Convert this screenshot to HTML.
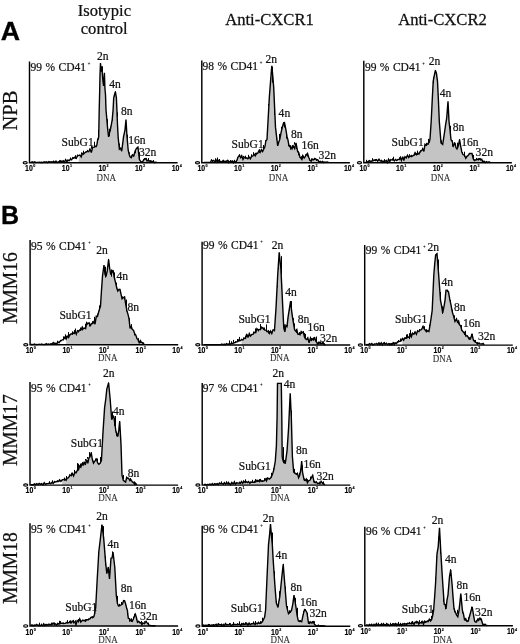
<!DOCTYPE html>
<html><head><meta charset="utf-8"><title>Figure</title>
<style>html,body{margin:0;padding:0;background:#fff}svg{display:block}</style></head>
<body>
<svg style="will-change:transform;filter:grayscale(1)" width="520" height="644" viewBox="0 0 520 644">
<rect width="520" height="644" fill="#fff"/>
<g font-family="Liberation Serif, serif" stroke="#111" stroke-width="0.25">
<text transform="translate(104.4,15.8) scale(1.035,1)" font-size="16" text-anchor="middle" fill="#111">Isotypic</text>
<text transform="translate(104.2,34.1) scale(1.035,1)" font-size="16" text-anchor="middle" fill="#111">control</text>
<text transform="translate(269.5,25.2) scale(1.02,1)" font-size="16.3" text-anchor="middle" fill="#111">Anti-CXCR1</text>
<text transform="translate(442.5,25.2) scale(1.02,1)" font-size="16.3" text-anchor="middle" fill="#111">Anti-CXCR2</text>
<text transform="translate(17.0,110.5) rotate(-90) scale(1.0,1)" font-size="20.5" text-anchor="middle" fill="#111">NPB</text>
<text transform="translate(17.0,288.1) rotate(-90) scale(0.955,1)" font-size="20.5" text-anchor="middle" fill="#111">MMM16</text>
<text transform="translate(17.0,430.2) rotate(-90) scale(0.955,1)" font-size="20.5" text-anchor="middle" fill="#111">MMM17</text>
<text transform="translate(17.0,568.1) rotate(-90) scale(0.955,1)" font-size="20.5" text-anchor="middle" fill="#111">MMM18</text>
</g>
<g font-family="Liberation Sans, sans-serif" font-weight="bold" fill="#000" stroke="#000" stroke-width="0.3">
<text transform="translate(0.8,40) scale(1.07,1)" font-size="25">A</text>
<text transform="translate(1.1,224.2) scale(1.0,1)" font-size="25">B</text>
</g>
<polygon points="78.8,162.8 78.8,155.6 80.0,155.2 81.2,157.0 82.4,153.5 83.6,154.0 84.8,152.7 86.0,152.1 87.3,151.3 88.7,151.7 90.0,149.2 91.3,152.5 92.7,147.4 94.0,147.1 95.4,146.6 96.8,145.4 97.8,139.0 98.7,137.2 99.2,110.2 99.7,90.2 100.0,75.2 100.5,63.0 101.2,71.8 101.8,66.2 102.8,79.8 103.6,85.8 104.4,72.8 104.9,87.8 105.5,94.8 106.0,109.8 107.7,129.2 108.6,136.8 109.5,132.9 110.5,129.2 112.2,119.8 113.1,109.8 113.7,97.8 114.5,94.8 115.4,91.8 116.4,97.8 116.9,109.8 117.5,124.8 118.2,137.8 119.4,149.2 120.6,148.2 121.7,151.2 123.5,137.2 125.0,129.8 126.0,119.5 126.9,135.2 128.2,150.2 129.1,154.1 130.0,156.8 131.3,157.7 132.5,154.8 133.8,155.8 135.2,150.7 136.6,148.2 138.0,147.2 139.4,159.6 141.2,162.2 142.6,161.7 144.0,159.6 144.9,159.0 145.9,158.7 147.1,160.9 148.4,160.1 149.6,161.2 150.8,160.7 152.1,161.8 153.3,161.2 154.5,162.6 155.8,162.3 157.0,162.4 157.0,162.8" fill="#c4c4c4" stroke="none"/>
<polyline points="31.0,162.4 32.2,161.8 33.4,162.6 34.6,161.9 35.8,162.5 36.9,162.4 38.1,162.4 39.3,162.3 40.5,162.5 41.7,162.3 42.9,162.6 44.1,161.8 45.2,162.4 46.4,161.9 47.6,162.6 48.8,161.5 50.0,162.2 51.2,161.8 52.4,162.2 53.6,161.2 54.8,162.5 56.0,161.1 57.2,162.6 58.4,161.7 59.6,162.3 60.8,160.8 62.0,161.8 63.2,160.8 64.4,162.2 65.6,159.7 66.8,161.7 68.0,160.2 69.2,160.7 70.4,159.2 71.6,159.8 72.8,157.7 74.0,158.2 75.2,156.8 76.4,158.2 77.6,155.3 78.8,155.6 80.0,155.2 81.2,157.0 82.4,153.5 83.6,154.0 84.8,152.7 86.0,152.1 87.3,151.3 88.7,151.7 90.0,149.2 91.3,152.5 92.7,147.4 94.0,147.1 95.4,146.6 96.8,145.4 97.8,139.0 98.7,137.2 99.2,110.2 99.7,90.2 100.0,75.2 100.5,63.0 101.2,71.8 101.8,66.2 102.8,79.8 103.6,85.8 104.4,72.8 104.9,87.8 105.5,94.8 106.0,109.8 107.7,129.2 108.6,136.8 109.5,132.9 110.5,129.2 112.2,119.8 113.1,109.8 113.7,97.8 114.5,94.8 115.4,91.8 116.4,97.8 116.9,109.8 117.5,124.8 118.2,137.8 119.4,149.2 120.6,148.2 121.7,151.2 123.5,137.2 125.0,129.8 126.0,119.5 126.9,135.2 128.2,150.2 129.1,154.1 130.0,156.8 131.3,157.7 132.5,154.8 133.8,155.8 135.2,150.7 136.6,148.2 138.0,147.2 139.4,159.6 141.2,162.2 142.6,161.7 144.0,159.6 144.9,159.0 145.9,158.7 147.1,160.9 148.4,160.1 149.6,161.2 150.8,160.7 152.1,161.8 153.3,161.2 154.5,162.6 155.8,162.3 157.0,162.4" fill="none" stroke="#000" stroke-width="1.4" stroke-linejoin="miter" stroke-miterlimit="3"/>
<path d="M59.5,162.0V160.2 M61.5,162.1V161.2 M62.5,162.1V161.1 M63.5,162.1V160.7 M65.5,161.2V159.3 M67.5,160.6V159.7 M70.5,159.6V157.5 M73.5,158.9V157.7 M75.5,158.8V155.2 M77.5,156.8V154.8 M79.5,155.8V154.7 M81.5,154.6V152.4 M83.5,154.6V150.7 M85.5,152.6V151.5 M87.5,151.7V149.9 M89.5,150.0V148.7 M91.5,148.7V146.0 M92.5,148.6V146.5 M94.5,147.2V141.7 M96.5,147.2V144.8 M98.5,139.7V130.0 M102.5,72.0V66.4 M104.5,77.1V74.8 M107.5,127.5V119.1 M109.5,136.2V128.7 M110.5,131.3V126.6 M112.5,120.5V116.2 M114.5,96.4V93.9 M115.5,94.2V91.2 M117.5,116.7V112.4 M119.5,148.2V143.5 M127.5,138.7V134.7 M129.5,153.8V152.4 M131.5,156.6V155.3 M133.5,156.7V155.2 M135.5,153.2V150.7 M137.5,148.5V146.7 M139.5,158.9V152.2 M143.5,160.6V159.0 M144.5,159.6V158.1 M146.5,159.6V158.1 M148.5,161.5V158.1 M150.5,162.4V160.7 M153.5,161.8V160.1" fill="none" stroke="#000" stroke-width="1.0"/>
<path d="M29.50,61.60 V162.75 H177.6" fill="none" stroke="#000" stroke-width="1.45" stroke-linecap="butt" stroke-linejoin="miter"/>
<ellipse cx="25.2" cy="162.7" rx="2.05" ry="1.15" fill="none" stroke="#000" stroke-width="1.2"/>
<g font-family="Liberation Sans, sans-serif" font-weight="bold" fill="#000">
<text transform="translate(25.1,170.50) scale(0.84,1)" font-size="8.3" stroke="#000" stroke-width="0.15">10<tspan font-size="4.4" dy="-3.7" dx="0.4">0</tspan></text>
<text transform="translate(61.8,170.50) scale(0.84,1)" font-size="8.3" stroke="#000" stroke-width="0.15">10<tspan font-size="4.4" dy="-3.7" dx="0.4">1</tspan></text>
<text transform="translate(98.4,170.50) scale(0.84,1)" font-size="8.3" stroke="#000" stroke-width="0.15">10<tspan font-size="4.4" dy="-3.7" dx="0.4">2</tspan></text>
<text transform="translate(135.0,170.50) scale(0.84,1)" font-size="8.3" stroke="#000" stroke-width="0.15">10<tspan font-size="4.4" dy="-3.7" dx="0.4">3</tspan></text>
<text transform="translate(171.7,170.50) scale(0.84,1)" font-size="8.3" stroke="#000" stroke-width="0.15">10<tspan font-size="4.4" dy="-3.7" dx="0.4">4</tspan></text>
</g>
<g font-family="Liberation Serif, serif" stroke="#111" stroke-width="0.22">
<text transform="translate(106.3,181.3) scale(0.9,1)" font-size="10" text-anchor="middle" fill="#303030" stroke="#303030" stroke-width="0.1">DNA</text>
<text transform="translate(30.5,70.9) scale(0.945,1)" font-size="12.2" text-anchor="start" fill="#111" word-spacing="0.6">99 % CD41<tspan font-size="4.8" dy="-6.0" dx="1.8">+</tspan></text>
<text transform="translate(97.0,59.5) scale(0.935,1)" font-size="12.4" text-anchor="start" fill="#111">2n</text>
<text transform="translate(109.2,87.8) scale(0.935,1)" font-size="12.4" text-anchor="start" fill="#111">4n</text>
<text transform="translate(121.0,115.0) scale(0.935,1)" font-size="12.4" text-anchor="start" fill="#111">8n</text>
<text transform="translate(128.2,144.2) scale(0.935,1)" font-size="12.4" text-anchor="start" fill="#111">16n</text>
<text transform="translate(139.0,156.2) scale(0.935,1)" font-size="12.4" text-anchor="start" fill="#111">32n</text>
<text transform="translate(61.5,145.6) scale(0.935,1)" font-size="12.4" text-anchor="start" fill="#111">SubG1</text>
</g>
<polygon points="237.8,162.8 237.8,157.6 239.5,155.2 240.7,157.6 241.9,156.1 243.0,159.4 244.2,157.2 245.4,158.1 246.6,157.8 247.8,158.8 249.1,157.2 250.3,158.8 251.5,156.4 252.7,156.2 254.0,154.2 255.2,155.9 256.5,153.5 257.7,153.4 258.9,150.8 260.1,152.4 261.4,149.6 262.6,151.5 263.8,148.9 264.9,146.8 265.9,140.7 267.0,139.4 268.2,118.0 269.4,96.4 270.6,80.9 271.8,65.8 272.8,76.3 273.7,87.4 274.6,107.4 275.5,127.4 276.6,136.6 277.7,145.8 278.8,142.0 279.8,139.4 281.1,132.4 282.3,127.4 283.4,123.5 284.5,122.7 285.8,129.1 287.0,136.4 288.0,140.2 289.0,145.8 290.5,145.9 292.0,148.9 293.3,146.0 294.7,148.5 296.0,142.8 297.7,151.9 298.7,152.5 299.8,156.5 300.8,158.1 301.9,159.6 303.1,156.1 304.2,158.0 305.4,156.4 306.4,154.7 307.5,153.4 308.8,157.5 310.0,160.4 311.2,161.2 312.4,159.2 313.6,159.8 314.8,158.4 316.0,159.4 317.5,159.6 319.0,161.8 320.2,161.4 321.4,162.3 322.6,161.4 323.8,162.6 324.9,161.9 326.1,162.3 327.3,162.0 328.5,162.4 328.5,162.8" fill="#c4c4c4" stroke="none"/>
<polyline points="203.8,162.4 204.9,162.4 206.0,162.4 207.2,162.4 208.3,162.4 209.4,162.4 210.5,162.4 211.5,160.0 212.5,161.0 213.7,160.3 214.9,161.9 216.1,160.0 217.2,162.1 218.4,160.4 219.6,162.1 220.8,161.3 222.0,162.0 223.1,160.5 224.2,161.6 225.4,161.3 226.6,161.4 227.7,160.4 228.8,162.6 230.0,161.5 231.1,161.4 232.3,161.0 233.4,162.6 234.5,160.8 235.7,162.4 236.8,161.0 237.8,157.6 239.5,155.2 240.7,157.6 241.9,156.1 243.0,159.4 244.2,157.2 245.4,158.1 246.6,157.8 247.8,158.8 249.1,157.2 250.3,158.8 251.5,156.4 252.7,156.2 254.0,154.2 255.2,155.9 256.5,153.5 257.7,153.4 258.9,150.8 260.1,152.4 261.4,149.6 262.6,151.5 263.8,148.9 264.9,146.8 265.9,140.7 267.0,139.4 268.2,118.0 269.4,96.4 270.6,80.9 271.8,65.8 272.8,76.3 273.7,87.4 274.6,107.4 275.5,127.4 276.6,136.6 277.7,145.8 278.8,142.0 279.8,139.4 281.1,132.4 282.3,127.4 283.4,123.5 284.5,122.7 285.8,129.1 287.0,136.4 288.0,140.2 289.0,145.8 290.5,145.9 292.0,148.9 293.3,146.0 294.7,148.5 296.0,142.8 297.7,151.9 298.7,152.5 299.8,156.5 300.8,158.1 301.9,159.6 303.1,156.1 304.2,158.0 305.4,156.4 306.4,154.7 307.5,153.4 308.8,157.5 310.0,160.4 311.2,161.2 312.4,159.2 313.6,159.8 314.8,158.4 316.0,159.4 317.5,159.6 319.0,161.8 320.2,161.4 321.4,162.3 322.6,161.4 323.8,162.6 324.9,161.9 326.1,162.3 327.3,162.0 328.5,162.4" fill="none" stroke="#000" stroke-width="1.4" stroke-linejoin="miter" stroke-miterlimit="3"/>
<path d="M212.5,161.9V160.4 M215.5,161.9V158.3 M217.5,161.7V157.5 M219.5,161.7V159.0 M223.5,162.0V159.9 M226.5,161.6V160.5 M228.5,161.9V160.4 M230.5,162.2V160.1 M232.5,162.1V160.5 M234.5,161.4V160.4 M236.5,160.8V159.9 M239.5,155.5V154.7 M241.5,157.7V154.7 M243.5,157.5V155.9 M245.5,158.3V155.7 M248.5,157.3V154.8 M251.5,157.2V154.3 M253.5,155.6V152.2 M254.5,155.3V153.9 M255.5,154.9V152.8 M256.5,154.5V152.8 M259.5,152.8V149.2 M261.5,151.3V149.3 M263.5,149.4V145.0 M265.5,143.1V140.3 M268.5,105.6V104.0 M272.5,82.6V66.8 M274.5,114.8V109.9 M276.5,139.7V134.1 M279.5,139.6V133.9 M281.5,129.4V126.8 M283.5,125.4V122.1 M284.5,127.5V122.1 M286.5,138.6V131.5 M288.5,146.0V143.3 M289.5,147.4V145.2 M290.5,149.7V145.5 M292.5,147.6V145.1 M294.5,144.7V142.2 M296.5,149.0V146.0 M298.5,155.3V151.3 M299.5,157.5V154.1 M301.5,159.3V156.2 M302.5,158.0V154.5 M303.5,157.6V155.8 M305.5,155.9V154.3 M307.5,156.5V153.4 M309.5,160.5V158.2 M311.5,160.8V158.4 M314.5,159.9V159.0 M316.5,161.0V158.8 M318.5,161.9V159.8" fill="none" stroke="#000" stroke-width="1.0"/>
<path d="M201.80,60.40 V162.75 H349.9" fill="none" stroke="#000" stroke-width="1.45" stroke-linecap="butt" stroke-linejoin="miter"/>
<ellipse cx="197.5" cy="162.7" rx="2.05" ry="1.15" fill="none" stroke="#000" stroke-width="1.2"/>
<g font-family="Liberation Sans, sans-serif" font-weight="bold" fill="#000">
<text transform="translate(197.4,170.50) scale(0.84,1)" font-size="8.3" stroke="#000" stroke-width="0.15">10<tspan font-size="4.4" dy="-3.7" dx="0.4">0</tspan></text>
<text transform="translate(234.1,170.50) scale(0.84,1)" font-size="8.3" stroke="#000" stroke-width="0.15">10<tspan font-size="4.4" dy="-3.7" dx="0.4">1</tspan></text>
<text transform="translate(270.7,170.50) scale(0.84,1)" font-size="8.3" stroke="#000" stroke-width="0.15">10<tspan font-size="4.4" dy="-3.7" dx="0.4">2</tspan></text>
<text transform="translate(307.4,170.50) scale(0.84,1)" font-size="8.3" stroke="#000" stroke-width="0.15">10<tspan font-size="4.4" dy="-3.7" dx="0.4">3</tspan></text>
<text transform="translate(344.0,170.50) scale(0.84,1)" font-size="8.3" stroke="#000" stroke-width="0.15">10<tspan font-size="4.4" dy="-3.7" dx="0.4">4</tspan></text>
</g>
<g font-family="Liberation Serif, serif" stroke="#111" stroke-width="0.22">
<text transform="translate(278.6,181.3) scale(0.9,1)" font-size="10" text-anchor="middle" fill="#303030" stroke="#303030" stroke-width="0.1">DNA</text>
<text transform="translate(202.5,70.2) scale(0.945,1)" font-size="12.2" text-anchor="start" fill="#111" word-spacing="0.6">98 % CD41<tspan font-size="4.8" dy="-6.0" dx="1.8">+</tspan></text>
<text transform="translate(265.4,62.5) scale(0.935,1)" font-size="12.4" text-anchor="start" fill="#111">2n</text>
<text transform="translate(278.6,117.0) scale(0.935,1)" font-size="12.4" text-anchor="start" fill="#111">4n</text>
<text transform="translate(291.0,138.0) scale(0.935,1)" font-size="12.4" text-anchor="start" fill="#111">8n</text>
<text transform="translate(301.4,148.8) scale(0.935,1)" font-size="12.4" text-anchor="start" fill="#111">16n</text>
<text transform="translate(318.6,158.6) scale(0.935,1)" font-size="12.4" text-anchor="start" fill="#111">32n</text>
<text transform="translate(231.5,147.8) scale(0.935,1)" font-size="12.4" text-anchor="start" fill="#111">SubG1</text>
</g>
<polygon points="399.0,162.8 399.0,159.5 400.2,157.5 401.4,160.3 402.6,156.8 403.8,160.5 405.0,156.7 406.2,157.7 407.5,155.2 408.7,157.4 410.0,155.8 411.3,156.6 412.5,155.8 413.8,155.4 415.1,152.6 416.4,154.7 417.6,152.9 418.9,154.1 420.2,151.5 421.5,150.8 422.7,148.9 423.9,151.4 425.0,144.4 426.2,145.4 427.7,143.7 429.2,142.3 430.0,139.0 431.2,121.3 432.2,100.7 433.2,81.3 434.3,75.3 435.4,70.5 436.4,73.1 437.5,81.3 438.4,99.8 439.3,121.3 441.0,142.8 442.7,144.3 443.8,137.2 444.8,130.5 445.8,123.3 446.7,118.2 448.0,101.3 449.0,121.3 450.0,129.9 451.0,139.7 452.2,141.4 453.5,145.9 455.0,142.8 456.0,147.8 457.0,149.0 458.3,146.0 459.6,139.7 460.7,146.5 461.8,152.0 463.1,154.7 464.5,155.2 465.8,158.2 467.0,156.4 468.3,155.2 469.5,153.5 470.8,153.5 472.0,153.5 473.2,158.7 474.4,160.5 475.7,159.9 477.0,159.1 478.3,159.9 479.6,158.8 480.6,159.9 481.7,159.3 482.7,161.9 484.0,161.1 485.3,162.6 486.5,161.7 487.8,162.5 489.1,161.8 490.4,162.5 490.4,162.8" fill="#c4c4c4" stroke="none"/>
<polyline points="365.8,161.9 367.0,161.5 368.2,162.4 369.4,160.7 370.6,161.4 371.7,161.0 372.9,161.0 374.1,159.8 375.3,160.6 376.5,159.7 377.7,161.2 379.0,159.2 380.2,161.0 381.5,160.8 382.7,161.3 383.9,161.3 385.0,161.2 386.2,160.7 387.4,162.6 388.5,159.3 389.7,161.7 390.8,159.7 392.0,160.1 393.2,159.5 394.3,160.9 395.5,159.4 396.7,160.5 397.8,159.6 399.0,159.5 400.2,157.5 401.4,160.3 402.6,156.8 403.8,160.5 405.0,156.7 406.2,157.7 407.5,155.2 408.7,157.4 410.0,155.8 411.3,156.6 412.5,155.8 413.8,155.4 415.1,152.6 416.4,154.7 417.6,152.9 418.9,154.1 420.2,151.5 421.5,150.8 422.7,148.9 423.9,151.4 425.0,144.4 426.2,145.4 427.7,143.7 429.2,142.3 430.0,139.0 431.2,121.3 432.2,100.7 433.2,81.3 434.3,75.3 435.4,70.5 436.4,73.1 437.5,81.3 438.4,99.8 439.3,121.3 441.0,142.8 442.7,144.3 443.8,137.2 444.8,130.5 445.8,123.3 446.7,118.2 448.0,101.3 449.0,121.3 450.0,129.9 451.0,139.7 452.2,141.4 453.5,145.9 455.0,142.8 456.0,147.8 457.0,149.0 458.3,146.0 459.6,139.7 460.7,146.5 461.8,152.0 463.1,154.7 464.5,155.2 465.8,158.2 467.0,156.4 468.3,155.2 469.5,153.5 470.8,153.5 472.0,153.5 473.2,158.7 474.4,160.5 475.7,159.9 477.0,159.1 478.3,159.9 479.6,158.8 480.6,159.9 481.7,159.3 482.7,161.9 484.0,161.1 485.3,162.6 486.5,161.7 487.8,162.5 489.1,161.8 490.4,162.5" fill="none" stroke="#000" stroke-width="1.4" stroke-linejoin="miter" stroke-miterlimit="3"/>
<path d="M366.5,162.2V159.8 M368.5,162.4V160.5 M372.5,160.7V158.2 M375.5,160.2V159.1 M378.5,160.5V159.3 M381.5,161.6V159.7 M384.5,161.2V159.1 M386.5,161.1V159.8 M389.5,160.7V159.5 M392.5,160.3V158.3 M393.5,160.3V156.7 M395.5,160.1V159.2 M397.5,159.8V158.9 M399.5,159.7V157.5 M400.5,159.4V156.4 M403.5,158.7V157.5 M404.5,158.3V157.1 M406.5,158.5V156.9 M408.5,157.4V156.0 M409.5,156.7V154.2 M411.5,156.4V154.8 M414.5,155.5V152.9 M415.5,155.0V152.8 M417.5,155.0V150.6 M420.5,152.4V150.2 M422.5,150.0V147.7 M424.5,147.4V145.4 M426.5,145.7V142.8 M428.5,144.7V138.8 M431.5,114.1V113.2 M433.5,83.3V77.2 M435.5,71.3V69.9 M438.5,106.7V102.1 M441.5,143.5V140.3 M443.5,138.8V137.9 M448.5,116.2V106.0 M450.5,136.2V125.9 M452.5,146.7V140.4 M454.5,143.7V142.2 M457.5,147.3V142.7 M459.5,140.1V139.1 M461.5,151.0V148.8 M462.5,154.3V152.0 M464.5,156.8V151.7 M466.5,157.4V155.9 M473.5,159.2V154.9 M474.5,160.8V159.8 M476.5,160.4V157.9 M478.5,159.9V158.2 M480.5,160.1V158.2 M482.5,162.4V160.0" fill="none" stroke="#000" stroke-width="1.0"/>
<path d="M363.80,60.65 V162.80 H511.9" fill="none" stroke="#000" stroke-width="1.45" stroke-linecap="butt" stroke-linejoin="miter"/>
<ellipse cx="359.5" cy="162.7" rx="2.05" ry="1.15" fill="none" stroke="#000" stroke-width="1.2"/>
<g font-family="Liberation Sans, sans-serif" font-weight="bold" fill="#000">
<text transform="translate(359.4,170.55) scale(0.84,1)" font-size="8.3" stroke="#000" stroke-width="0.15">10<tspan font-size="4.4" dy="-3.7" dx="0.4">0</tspan></text>
<text transform="translate(396.1,170.55) scale(0.84,1)" font-size="8.3" stroke="#000" stroke-width="0.15">10<tspan font-size="4.4" dy="-3.7" dx="0.4">1</tspan></text>
<text transform="translate(432.7,170.55) scale(0.84,1)" font-size="8.3" stroke="#000" stroke-width="0.15">10<tspan font-size="4.4" dy="-3.7" dx="0.4">2</tspan></text>
<text transform="translate(469.4,170.55) scale(0.84,1)" font-size="8.3" stroke="#000" stroke-width="0.15">10<tspan font-size="4.4" dy="-3.7" dx="0.4">3</tspan></text>
<text transform="translate(506.0,170.55) scale(0.84,1)" font-size="8.3" stroke="#000" stroke-width="0.15">10<tspan font-size="4.4" dy="-3.7" dx="0.4">4</tspan></text>
</g>
<g font-family="Liberation Serif, serif" stroke="#111" stroke-width="0.22">
<text transform="translate(440.6,181.4) scale(0.9,1)" font-size="10" text-anchor="middle" fill="#303030" stroke="#303030" stroke-width="0.1">DNA</text>
<text transform="translate(364.9,70.8) scale(0.945,1)" font-size="12.2" text-anchor="start" fill="#111" word-spacing="0.6">99 % CD41<tspan font-size="4.8" dy="-6.0" dx="1.8">+</tspan></text>
<text transform="translate(428.8,65.0) scale(0.935,1)" font-size="12.4" text-anchor="start" fill="#111">2n</text>
<text transform="translate(439.7,97.3) scale(0.935,1)" font-size="12.4" text-anchor="start" fill="#111">4n</text>
<text transform="translate(452.8,131.2) scale(0.935,1)" font-size="12.4" text-anchor="start" fill="#111">8n</text>
<text transform="translate(461.2,146.0) scale(0.935,1)" font-size="12.4" text-anchor="start" fill="#111">16n</text>
<text transform="translate(475.6,156.3) scale(0.935,1)" font-size="12.4" text-anchor="start" fill="#111">32n</text>
<text transform="translate(391.5,145.5) scale(0.935,1)" font-size="12.4" text-anchor="start" fill="#111">SubG1</text>
</g>
<polygon points="66.1,344.8 66.1,339.1 67.3,336.3 68.6,337.6 69.9,334.5 71.2,334.2 72.5,333.0 73.7,333.4 75.0,331.0 76.3,334.2 77.5,330.6 78.8,331.2 80.0,329.8 81.1,329.8 82.3,327.0 83.4,328.8 84.6,328.0 85.6,328.6 86.7,322.8 87.7,323.8 89.1,322.8 90.5,325.5 91.6,323.5 92.7,323.6 93.8,321.8 95.0,324.2 96.3,316.2 97.5,316.5 99.0,310.8 100.5,306.0 101.5,290.2 102.5,276.0 104.0,265.0 105.0,274.2 106.0,276.5 107.3,270.4 108.6,259.5 109.7,268.5 110.8,274.6 111.9,272.5 113.0,270.0 114.2,277.0 115.4,281.8 116.6,287.3 117.8,291.0 118.9,289.5 120.0,289.5 121.0,294.2 122.0,298.7 123.3,297.6 124.6,297.0 125.8,304.8 127.0,311.0 128.0,314.4 129.0,318.7 130.1,328.5 131.2,326.3 132.3,329.5 133.5,330.2 134.7,333.7 135.8,335.0 137.0,338.7 138.1,339.9 139.2,342.7 140.4,340.6 141.5,342.4 142.5,342.8 143.6,343.8 144.6,344.5 144.6,344.8" fill="#c4c4c4" stroke="none"/>
<polyline points="30.8,344.5 32.0,344.4 33.2,344.6 34.4,344.1 35.6,344.6 36.8,344.4 38.0,344.6 39.2,344.2 40.4,344.6 41.6,344.1 42.8,344.6 44.0,344.4 45.1,344.6 46.3,343.7 47.4,344.5 48.6,344.1 49.7,344.5 50.9,343.8 52.0,344.0 53.3,342.5 54.5,343.9 55.8,343.2 56.8,343.9 57.9,341.9 59.0,342.8 60.0,341.3 61.2,340.7 62.3,339.8 63.5,339.4 64.8,337.3 66.1,339.1 67.3,336.3 68.6,337.6 69.9,334.5 71.2,334.2 72.5,333.0 73.7,333.4 75.0,331.0 76.3,334.2 77.5,330.6 78.8,331.2 80.0,329.8 81.1,329.8 82.3,327.0 83.4,328.8 84.6,328.0 85.6,328.6 86.7,322.8 87.7,323.8 89.1,322.8 90.5,325.5 91.6,323.5 92.7,323.6 93.8,321.8 95.0,324.2 96.3,316.2 97.5,316.5 99.0,310.8 100.5,306.0 101.5,290.2 102.5,276.0 104.0,265.0 105.0,274.2 106.0,276.5 107.3,270.4 108.6,259.5 109.7,268.5 110.8,274.6 111.9,272.5 113.0,270.0 114.2,277.0 115.4,281.8 116.6,287.3 117.8,291.0 118.9,289.5 120.0,289.5 121.0,294.2 122.0,298.7 123.3,297.6 124.6,297.0 125.8,304.8 127.0,311.0 128.0,314.4 129.0,318.7 130.1,328.5 131.2,326.3 132.3,329.5 133.5,330.2 134.7,333.7 135.8,335.0 137.0,338.7 138.1,339.9 139.2,342.7 140.4,340.6 141.5,342.4 142.5,342.8 143.6,343.8 144.6,344.5" fill="none" stroke="#000" stroke-width="1.4" stroke-linejoin="miter" stroke-miterlimit="3"/>
<path d="M54.5,344.0V342.6 M57.5,342.9V340.8 M60.5,341.0V339.9 M63.5,340.4V336.4 M65.5,338.1V334.3 M66.5,338.2V335.8 M68.5,336.2V332.1 M70.5,335.3V333.6 M72.5,334.9V331.3 M74.5,334.2V330.2 M75.5,333.0V328.5 M78.5,332.6V330.6 M80.5,330.9V327.5 M82.5,330.5V327.4 M85.5,327.6V323.8 M87.5,324.4V323.2 M89.5,326.5V323.2 M92.5,324.0V321.2 M94.5,322.0V316.8 M97.5,316.5V313.7 M99.5,310.6V305.4 M101.5,288.9V287.9 M105.5,277.6V266.7 M108.5,260.1V258.9 M111.5,276.7V269.4 M114.5,278.9V272.4 M116.5,288.5V282.6 M119.5,290.1V288.9 M122.5,299.2V296.4 M124.5,299.7V296.4 M126.5,311.3V299.6 M129.5,321.0V318.1 M131.5,328.9V324.2 M134.5,335.5V332.2 M136.5,338.3V336.9 M138.5,341.1V338.1 M140.5,343.1V340.3 M142.5,343.4V341.9 M143.5,344.1V342.4" fill="none" stroke="#000" stroke-width="1.0"/>
<path d="M30.10,240.10 V344.80 H178.2" fill="none" stroke="#000" stroke-width="1.45" stroke-linecap="butt" stroke-linejoin="miter"/>
<ellipse cx="25.8" cy="344.7" rx="2.05" ry="1.15" fill="none" stroke="#000" stroke-width="1.2"/>
<g font-family="Liberation Sans, sans-serif" font-weight="bold" fill="#000">
<text transform="translate(25.7,352.55) scale(0.84,1)" font-size="8.3" stroke="#000" stroke-width="0.15">10<tspan font-size="4.4" dy="-3.7" dx="0.4">0</tspan></text>
<text transform="translate(62.4,352.55) scale(0.84,1)" font-size="8.3" stroke="#000" stroke-width="0.15">10<tspan font-size="4.4" dy="-3.7" dx="0.4">1</tspan></text>
<text transform="translate(99.0,352.55) scale(0.84,1)" font-size="8.3" stroke="#000" stroke-width="0.15">10<tspan font-size="4.4" dy="-3.7" dx="0.4">2</tspan></text>
<text transform="translate(135.6,352.55) scale(0.84,1)" font-size="8.3" stroke="#000" stroke-width="0.15">10<tspan font-size="4.4" dy="-3.7" dx="0.4">3</tspan></text>
<text transform="translate(172.3,352.55) scale(0.84,1)" font-size="8.3" stroke="#000" stroke-width="0.15">10<tspan font-size="4.4" dy="-3.7" dx="0.4">4</tspan></text>
</g>
<g font-family="Liberation Serif, serif" stroke="#111" stroke-width="0.22">
<text transform="translate(107.8,361.2) scale(0.9,1)" font-size="10" text-anchor="middle" fill="#303030" stroke="#303030" stroke-width="0.1">DNA</text>
<text transform="translate(31.0,249.6) scale(0.945,1)" font-size="12.2" text-anchor="start" fill="#111" word-spacing="0.6">95 % CD41<tspan font-size="4.8" dy="-6.0" dx="1.8">+</tspan></text>
<text transform="translate(96.3,253.5) scale(0.935,1)" font-size="12.4" text-anchor="start" fill="#111">2n</text>
<text transform="translate(116.5,279.5) scale(0.935,1)" font-size="12.4" text-anchor="start" fill="#111">4n</text>
<text transform="translate(127.4,310.6) scale(0.935,1)" font-size="12.4" text-anchor="start" fill="#111">8n</text>
<text transform="translate(59.4,319.2) scale(0.935,1)" font-size="12.4" text-anchor="start" fill="#111">SubG1</text>
</g>
<polygon points="241.6,344.9 241.6,339.6 242.9,339.9 244.2,338.1 245.5,338.4 246.7,334.0 248.0,337.5 249.3,333.6 250.5,336.0 251.8,334.6 253.1,334.2 254.4,332.4 255.7,332.7 256.9,328.7 258.2,330.2 259.5,329.5 260.5,329.6 261.6,327.1 262.6,328.1 263.8,329.5 264.9,329.9 266.1,330.3 267.2,331.8 268.4,330.8 269.5,333.4 270.6,331.1 271.8,333.4 273.1,329.8 274.5,330.1 276.0,308.1 277.7,275.1 279.2,252.4 280.9,269.1 282.0,291.1 282.8,308.1 283.8,328.1 284.9,331.8 285.9,325.5 287.0,326.5 288.0,317.7 289.0,311.1 290.6,301.1 291.6,310.7 292.5,317.1 293.6,323.9 294.6,329.6 295.7,331.1 296.8,329.6 297.9,334.3 299.0,334.1 300.1,334.8 301.2,331.6 302.3,332.6 303.3,331.9 304.4,336.7 305.4,338.8 306.6,339.5 307.8,337.8 309.1,342.8 310.3,338.6 311.5,340.3 312.5,338.9 313.6,340.0 314.6,337.1 315.7,340.9 316.8,342.5 317.9,344.2 319.0,342.3 320.1,343.5 321.2,343.2 322.3,343.4 323.3,342.8 324.4,344.8 325.4,344.6 325.4,344.9" fill="#c4c4c4" stroke="none"/>
<polyline points="203.8,344.6 205.0,344.6 206.2,344.6 207.4,344.6 208.7,344.6 209.9,344.6 211.1,344.6 212.3,344.6 213.5,344.6 214.7,344.6 215.9,344.6 217.2,344.6 218.4,344.6 219.6,344.6 220.8,344.6 221.9,344.0 223.1,344.8 224.2,344.1 225.4,344.8 226.5,343.6 227.7,344.3 228.8,344.0 230.1,344.2 231.4,343.2 232.7,343.4 233.9,342.8 235.2,342.5 236.5,341.8 237.8,341.5 239.1,339.8 240.3,340.7 241.6,339.6 242.9,339.9 244.2,338.1 245.5,338.4 246.7,334.0 248.0,337.5 249.3,333.6 250.5,336.0 251.8,334.6 253.1,334.2 254.4,332.4 255.7,332.7 256.9,328.7 258.2,330.2 259.5,329.5 260.5,329.6 261.6,327.1 262.6,328.1 263.8,329.5 264.9,329.9 266.1,330.3 267.2,331.8 268.4,330.8 269.5,333.4 270.6,331.1 271.8,333.4 273.1,329.8 274.5,330.1 276.0,308.1 277.7,275.1 279.2,252.4 280.9,269.1 282.0,291.1 282.8,308.1 283.8,328.1 284.9,331.8 285.9,325.5 287.0,326.5 288.0,317.7 289.0,311.1 290.6,301.1 291.6,310.7 292.5,317.1 293.6,323.9 294.6,329.6 295.7,331.1 296.8,329.6 297.9,334.3 299.0,334.1 300.1,334.8 301.2,331.6 302.3,332.6 303.3,331.9 304.4,336.7 305.4,338.8 306.6,339.5 307.8,337.8 309.1,342.8 310.3,338.6 311.5,340.3 312.5,338.9 313.6,340.0 314.6,337.1 315.7,340.9 316.8,342.5 317.9,344.2 319.0,342.3 320.1,343.5 321.2,343.2 322.3,343.4 323.3,342.8 324.4,344.8 325.4,344.6" fill="none" stroke="#000" stroke-width="1.4" stroke-linejoin="miter" stroke-miterlimit="3"/>
<path d="M229.5,344.2V340.4 M231.5,343.4V341.3 M233.5,342.9V339.9 M235.5,342.7V341.2 M237.5,341.6V339.0 M238.5,341.4V339.5 M239.5,341.5V336.9 M241.5,339.8V338.8 M243.5,339.1V337.5 M245.5,337.9V335.9 M247.5,336.9V335.5 M249.5,336.2V333.2 M251.5,335.1V334.0 M253.5,334.3V331.5 M255.5,333.0V328.4 M258.5,331.5V328.9 M260.5,330.1V324.0 M263.5,329.4V327.5 M264.5,330.4V327.5 M266.5,331.4V324.4 M268.5,333.6V331.2 M269.5,333.1V331.2 M271.5,333.9V331.9 M274.5,331.5V327.6 M277.5,287.2V285.7 M278.5,269.4V267.7 M279.5,254.5V252.9 M281.5,274.2V256.2 M284.5,328.6V324.4 M285.5,327.8V326.3 M287.5,325.9V325.1 M289.5,310.9V309.9 M291.5,307.6V301.1 M293.5,320.7V318.1 M294.5,327.5V323.4 M296.5,333.1V329.0 M299.5,335.1V332.1 M301.5,334.0V332.0 M304.5,336.6V333.0 M305.5,338.8V333.9 M307.5,339.9V338.2 M310.5,340.4V336.5 M311.5,340.7V337.9 M313.5,339.2V337.5 M316.5,341.1V336.5 M318.5,342.8V341.9 M319.5,343.0V341.9 M320.5,344.0V341.6 M322.5,343.8V341.8 M324.5,344.3V343.4" fill="none" stroke="#000" stroke-width="1.0"/>
<path d="M202.10,241.80 V344.95 H350.2" fill="none" stroke="#000" stroke-width="1.45" stroke-linecap="butt" stroke-linejoin="miter"/>
<ellipse cx="197.8" cy="344.8" rx="2.05" ry="1.15" fill="none" stroke="#000" stroke-width="1.2"/>
<g font-family="Liberation Sans, sans-serif" font-weight="bold" fill="#000">
<text transform="translate(197.7,352.70) scale(0.84,1)" font-size="8.3" stroke="#000" stroke-width="0.15">10<tspan font-size="4.4" dy="-3.7" dx="0.4">0</tspan></text>
<text transform="translate(234.3,352.70) scale(0.84,1)" font-size="8.3" stroke="#000" stroke-width="0.15">10<tspan font-size="4.4" dy="-3.7" dx="0.4">1</tspan></text>
<text transform="translate(271.0,352.70) scale(0.84,1)" font-size="8.3" stroke="#000" stroke-width="0.15">10<tspan font-size="4.4" dy="-3.7" dx="0.4">2</tspan></text>
<text transform="translate(307.6,352.70) scale(0.84,1)" font-size="8.3" stroke="#000" stroke-width="0.15">10<tspan font-size="4.4" dy="-3.7" dx="0.4">3</tspan></text>
<text transform="translate(344.3,352.70) scale(0.84,1)" font-size="8.3" stroke="#000" stroke-width="0.15">10<tspan font-size="4.4" dy="-3.7" dx="0.4">4</tspan></text>
</g>
<g font-family="Liberation Serif, serif" stroke="#111" stroke-width="0.22">
<text transform="translate(279.8,361.3) scale(0.9,1)" font-size="10" text-anchor="middle" fill="#303030" stroke="#303030" stroke-width="0.1">DNA</text>
<text transform="translate(203.1,249.3) scale(0.945,1)" font-size="12.2" text-anchor="start" fill="#111" word-spacing="0.6">99 % CD41<tspan font-size="4.8" dy="-6.0" dx="1.8">+</tspan></text>
<text transform="translate(271.7,249.0) scale(0.935,1)" font-size="12.4" text-anchor="start" fill="#111">2n</text>
<text transform="translate(285.2,295.5) scale(0.935,1)" font-size="12.4" text-anchor="start" fill="#111">4n</text>
<text transform="translate(297.8,322.7) scale(0.935,1)" font-size="12.4" text-anchor="start" fill="#111">8n</text>
<text transform="translate(307.5,330.5) scale(0.935,1)" font-size="12.4" text-anchor="start" fill="#111">16n</text>
<text transform="translate(319.9,341.6) scale(0.935,1)" font-size="12.4" text-anchor="start" fill="#111">32n</text>
<text transform="translate(238.4,323.1) scale(0.935,1)" font-size="12.4" text-anchor="start" fill="#111">SubG1</text>
</g>
<polygon points="402.4,345.1 402.4,338.6 403.6,340.2 404.9,337.8 406.2,338.1 407.5,337.7 408.7,337.2 410.0,335.4 411.3,337.1 412.5,333.2 413.8,334.2 415.1,332.0 416.4,334.3 417.6,330.7 418.9,331.5 420.2,329.8 421.5,329.6 423.1,326.5 424.1,328.8 425.0,329.8 426.4,331.8 427.7,330.7 428.9,331.5 430.0,325.3 431.1,318.2 432.2,310.3 433.8,275.3 434.7,264.0 435.6,255.3 437.0,253.9 438.7,275.3 439.6,287.6 440.5,300.3 441.6,305.9 442.7,312.8 444.2,305.3 445.1,299.6 446.0,290.3 447.2,290.4 448.5,291.8 449.8,299.7 451.0,304.8 452.2,311.6 453.5,315.9 455.0,321.5 456.5,319.0 457.5,322.2 458.6,320.9 459.6,325.1 460.6,325.5 461.7,330.0 462.7,331.3 463.9,332.7 465.2,334.1 466.4,335.9 467.7,336.4 469.1,339.1 470.4,339.0 472.0,334.3 473.5,340.5 475.0,341.9 476.5,342.7 477.5,344.0 478.6,343.0 479.6,343.6 480.8,343.9 481.9,344.0 483.1,343.3 484.2,344.8 484.2,345.1" fill="#c4c4c4" stroke="none"/>
<polyline points="365.8,344.8 367.0,344.4 368.2,344.9 369.4,343.6 370.6,344.6 371.8,343.5 373.0,344.9 374.2,344.1 375.4,344.1 376.6,343.5 377.8,344.5 379.0,343.0 380.1,344.5 381.3,342.8 382.5,344.9 383.7,343.1 384.9,344.3 386.1,343.4 387.2,344.6 388.4,343.6 389.6,344.9 390.8,343.7 391.9,344.9 393.1,342.8 394.2,344.5 395.4,343.0 396.4,343.5 397.5,342.0 398.5,341.9 399.8,341.2 401.1,340.9 402.4,338.6 403.6,340.2 404.9,337.8 406.2,338.1 407.5,337.7 408.7,337.2 410.0,335.4 411.3,337.1 412.5,333.2 413.8,334.2 415.1,332.0 416.4,334.3 417.6,330.7 418.9,331.5 420.2,329.8 421.5,329.6 423.1,326.5 424.1,328.8 425.0,329.8 426.4,331.8 427.7,330.7 428.9,331.5 430.0,325.3 431.1,318.2 432.2,310.3 433.8,275.3 434.7,264.0 435.6,255.3 437.0,253.9 438.7,275.3 439.6,287.6 440.5,300.3 441.6,305.9 442.7,312.8 444.2,305.3 445.1,299.6 446.0,290.3 447.2,290.4 448.5,291.8 449.8,299.7 451.0,304.8 452.2,311.6 453.5,315.9 455.0,321.5 456.5,319.0 457.5,322.2 458.6,320.9 459.6,325.1 460.6,325.5 461.7,330.0 462.7,331.3 463.9,332.7 465.2,334.1 466.4,335.9 467.7,336.4 469.1,339.1 470.4,339.0 472.0,334.3 473.5,340.5 475.0,341.9 476.5,342.7 477.5,344.0 478.6,343.0 479.6,343.6 480.8,343.9 481.9,344.0 483.1,343.3 484.2,344.8" fill="none" stroke="#000" stroke-width="1.4" stroke-linejoin="miter" stroke-miterlimit="3"/>
<path d="M374.5,344.3V343.5 M376.5,344.3V342.9 M378.5,344.4V342.7 M379.5,344.7V343.3 M381.5,344.4V343.0 M384.5,344.0V341.9 M386.5,343.9V342.6 M389.5,344.5V343.1 M391.5,344.0V343.0 M393.5,343.4V342.4 M394.5,343.2V342.4 M397.5,342.7V341.3 M398.5,342.2V340.0 M400.5,341.7V338.5 M403.5,340.4V338.6 M405.5,339.0V337.5 M406.5,338.8V334.5 M407.5,337.5V334.2 M409.5,339.0V333.2 M410.5,336.3V329.8 M411.5,336.0V333.6 M414.5,334.2V331.9 M417.5,332.2V330.7 M419.5,331.2V329.0 M422.5,328.0V326.2 M424.5,329.1V326.2 M426.5,331.7V329.2 M429.5,326.3V324.7 M432.5,302.5V300.8 M435.5,255.7V254.3 M436.5,254.6V253.3 M438.5,275.4V259.5 M440.5,302.1V292.0 M442.5,313.9V306.3 M447.5,292.1V289.7 M450.5,303.0V299.8 M452.5,313.3V309.7 M454.5,318.3V315.3 M456.5,319.5V318.4 M458.5,324.2V321.4 M461.5,330.5V325.1 M464.5,335.1V331.6 M465.5,336.6V330.7 M467.5,337.0V335.3 M469.5,339.6V337.2 M470.5,338.9V337.4 M471.5,335.8V333.7 M472.5,337.5V333.7 M474.5,341.3V339.9 M475.5,342.2V339.9 M477.5,343.3V342.1 M479.5,344.1V342.6" fill="none" stroke="#000" stroke-width="1.0"/>
<path d="M364.70,245.00 V345.10 H512.8" fill="none" stroke="#000" stroke-width="1.45" stroke-linecap="butt" stroke-linejoin="miter"/>
<ellipse cx="360.4" cy="345.0" rx="2.05" ry="1.15" fill="none" stroke="#000" stroke-width="1.2"/>
<g font-family="Liberation Sans, sans-serif" font-weight="bold" fill="#000">
<text transform="translate(360.3,352.85) scale(0.84,1)" font-size="8.3" stroke="#000" stroke-width="0.15">10<tspan font-size="4.4" dy="-3.7" dx="0.4">0</tspan></text>
<text transform="translate(396.9,352.85) scale(0.84,1)" font-size="8.3" stroke="#000" stroke-width="0.15">10<tspan font-size="4.4" dy="-3.7" dx="0.4">1</tspan></text>
<text transform="translate(433.6,352.85) scale(0.84,1)" font-size="8.3" stroke="#000" stroke-width="0.15">10<tspan font-size="4.4" dy="-3.7" dx="0.4">2</tspan></text>
<text transform="translate(470.2,352.85) scale(0.84,1)" font-size="8.3" stroke="#000" stroke-width="0.15">10<tspan font-size="4.4" dy="-3.7" dx="0.4">3</tspan></text>
<text transform="translate(506.9,352.85) scale(0.84,1)" font-size="8.3" stroke="#000" stroke-width="0.15">10<tspan font-size="4.4" dy="-3.7" dx="0.4">4</tspan></text>
</g>
<g font-family="Liberation Serif, serif" stroke="#111" stroke-width="0.22">
<text transform="translate(442.4,361.5) scale(0.9,1)" font-size="10" text-anchor="middle" fill="#303030" stroke="#303030" stroke-width="0.1">DNA</text>
<text transform="translate(365.8,254.2) scale(0.945,1)" font-size="12.2" text-anchor="start" fill="#111" word-spacing="0.6">99 % CD41<tspan font-size="4.8" dy="-6.0" dx="1.8">+</tspan></text>
<text transform="translate(427.5,250.9) scale(0.935,1)" font-size="12.4" text-anchor="start" fill="#111">2n</text>
<text transform="translate(441.4,285.9) scale(0.935,1)" font-size="12.4" text-anchor="start" fill="#111">4n</text>
<text transform="translate(454.0,311.4) scale(0.935,1)" font-size="12.4" text-anchor="start" fill="#111">8n</text>
<text transform="translate(462.9,327.1) scale(0.935,1)" font-size="12.4" text-anchor="start" fill="#111">16n</text>
<text transform="translate(478.0,340.3) scale(0.935,1)" font-size="12.4" text-anchor="start" fill="#111">32n</text>
<text transform="translate(395.0,322.9) scale(0.935,1)" font-size="12.4" text-anchor="start" fill="#111">SubG1</text>
</g>
<polygon points="62.2,485.1 62.2,479.9 63.5,479.6 64.8,478.9 66.1,480.3 67.3,478.0 68.6,477.7 69.9,474.8 71.2,475.8 72.4,473.6 73.6,476.0 74.9,472.1 76.1,472.7 77.3,470.4 78.5,470.0 79.6,466.1 80.8,467.3 81.9,464.2 83.1,465.1 84.2,461.8 85.3,464.9 86.5,459.6 87.8,463.3 89.0,457.6 90.1,456.7 91.2,452.7 92.3,459.3 93.5,463.1 95.0,460.9 96.5,459.1 97.7,462.9 98.8,464.2 100.1,463.2 101.4,460.6 103.0,432.1 104.6,407.6 105.7,399.7 106.8,389.1 108.6,382.9 110.2,399.8 111.7,419.8 112.8,415.6 113.8,416.6 114.9,424.0 116.0,432.1 117.8,436.6 118.8,429.9 119.7,421.4 121.0,444.4 122.0,475.2 123.3,480.4 124.6,481.4 125.6,482.1 126.7,477.3 127.7,478.3 128.8,478.6 130.0,480.8 131.2,480.0 132.3,482.0 133.5,482.3 134.7,484.4 135.8,483.6 137.0,484.8 137.0,485.1" fill="#c4c4c4" stroke="none"/>
<polyline points="30.8,484.8 32.0,484.7 33.2,484.8 34.4,483.9 35.6,484.7 36.8,483.7 38.0,484.5 39.2,483.4 40.4,484.4 41.7,483.6 43.0,484.9 44.2,482.7 45.5,484.3 46.8,483.6 48.1,483.6 49.4,483.0 50.7,483.6 52.0,482.4 53.2,483.5 54.5,481.6 55.8,482.0 57.1,481.3 58.4,481.5 59.6,479.9 60.9,481.5 62.2,479.9 63.5,479.6 64.8,478.9 66.1,480.3 67.3,478.0 68.6,477.7 69.9,474.8 71.2,475.8 72.4,473.6 73.6,476.0 74.9,472.1 76.1,472.7 77.3,470.4 78.5,470.0 79.6,466.1 80.8,467.3 81.9,464.2 83.1,465.1 84.2,461.8 85.3,464.9 86.5,459.6 87.8,463.3 89.0,457.6 90.1,456.7 91.2,452.7 92.3,459.3 93.5,463.1 95.0,460.9 96.5,459.1 97.7,462.9 98.8,464.2 100.1,463.2 101.4,460.6 103.0,432.1 104.6,407.6 105.7,399.7 106.8,389.1 108.6,382.9 110.2,399.8 111.7,419.8 112.8,415.6 113.8,416.6 114.9,424.0 116.0,432.1 117.8,436.6 118.8,429.9 119.7,421.4 121.0,444.4 122.0,475.2 123.3,480.4 124.6,481.4 125.6,482.1 126.7,477.3 127.7,478.3 128.8,478.6 130.0,480.8 131.2,480.0 132.3,482.0 133.5,482.3 134.7,484.4 135.8,483.6 137.0,484.8" fill="none" stroke="#000" stroke-width="1.4" stroke-linejoin="miter" stroke-miterlimit="3"/>
<path d="M41.5,484.6V483.6 M43.5,484.4V483.1 M46.5,484.0V483.0 M49.5,483.9V481.2 M52.5,482.8V480.3 M54.5,482.8V481.6 M56.5,481.9V481.0 M57.5,481.5V480.3 M59.5,481.5V479.3 M62.5,480.2V479.0 M64.5,480.8V477.6 M66.5,479.4V476.0 M69.5,476.8V475.2 M71.5,475.8V472.7 M72.5,474.7V473.4 M74.5,473.0V469.9 M77.5,470.2V463.1 M78.5,469.2V463.7 M80.5,466.3V463.6 M81.5,465.2V463.6 M82.5,464.4V462.1 M85.5,460.7V459.0 M87.5,458.8V457.0 M89.5,456.7V452.1 M91.5,455.3V452.2 M93.5,464.0V460.9 M95.5,460.9V458.5 M97.5,461.9V458.5 M100.5,462.3V457.0 M102.5,440.3V439.4 M104.5,408.8V407.7 M108.5,385.4V382.3 M110.5,406.3V399.8 M112.5,418.9V411.5 M114.5,425.9V418.1 M115.5,430.7V416.0 M116.5,436.3V431.5 M117.5,436.3V433.7 M119.5,422.9V421.3 M121.5,461.7V455.3 M123.5,479.3V474.9 M126.5,480.0V477.7 M128.5,479.0V477.7 M130.5,480.6V478.0 M132.5,482.5V481.4 M134.5,483.4V481.4 M135.5,484.2V482.3" fill="none" stroke="#000" stroke-width="1.0"/>
<path d="M30.00,382.10 V485.10 H178.1" fill="none" stroke="#000" stroke-width="1.45" stroke-linecap="butt" stroke-linejoin="miter"/>
<ellipse cx="25.7" cy="485.0" rx="2.05" ry="1.15" fill="none" stroke="#000" stroke-width="1.2"/>
<g font-family="Liberation Sans, sans-serif" font-weight="bold" fill="#000">
<text transform="translate(25.6,492.85) scale(0.84,1)" font-size="8.3" stroke="#000" stroke-width="0.15">10<tspan font-size="4.4" dy="-3.7" dx="0.4">0</tspan></text>
<text transform="translate(62.3,492.85) scale(0.84,1)" font-size="8.3" stroke="#000" stroke-width="0.15">10<tspan font-size="4.4" dy="-3.7" dx="0.4">1</tspan></text>
<text transform="translate(98.9,492.85) scale(0.84,1)" font-size="8.3" stroke="#000" stroke-width="0.15">10<tspan font-size="4.4" dy="-3.7" dx="0.4">2</tspan></text>
<text transform="translate(135.5,492.85) scale(0.84,1)" font-size="8.3" stroke="#000" stroke-width="0.15">10<tspan font-size="4.4" dy="-3.7" dx="0.4">3</tspan></text>
<text transform="translate(172.2,492.85) scale(0.84,1)" font-size="8.3" stroke="#000" stroke-width="0.15">10<tspan font-size="4.4" dy="-3.7" dx="0.4">4</tspan></text>
</g>
<g font-family="Liberation Serif, serif" stroke="#111" stroke-width="0.22">
<text transform="translate(108.0,500.5) scale(0.9,1)" font-size="10" text-anchor="middle" fill="#303030" stroke="#303030" stroke-width="0.1">DNA</text>
<text transform="translate(31.0,391.6) scale(0.945,1)" font-size="12.2" text-anchor="start" fill="#111" word-spacing="0.6">95 % CD41<tspan font-size="4.8" dy="-6.0" dx="1.8">+</tspan></text>
<text transform="translate(103.0,377.0) scale(0.935,1)" font-size="12.4" text-anchor="start" fill="#111">2n</text>
<text transform="translate(113.0,414.9) scale(0.935,1)" font-size="12.4" text-anchor="start" fill="#111">4n</text>
<text transform="translate(127.7,476.6) scale(0.935,1)" font-size="12.4" text-anchor="start" fill="#111">8n</text>
<text transform="translate(70.8,447.0) scale(0.935,1)" font-size="12.4" text-anchor="start" fill="#111">SubG1</text>
</g>
<polygon points="203.8,485.1 203.8,484.8 205.0,484.3 206.2,484.9 207.4,484.4 208.7,484.6 209.9,484.0 211.1,484.9 212.3,483.6 213.5,484.9 214.7,483.6 215.9,484.4 217.2,483.6 218.4,484.5 219.6,482.9 220.8,483.8 222.0,483.4 223.3,484.3 224.5,482.7 225.7,484.2 226.9,482.6 228.2,484.1 229.4,483.4 230.6,484.7 231.8,482.5 233.1,484.0 234.3,482.0 235.5,484.2 236.7,482.6 238.0,483.3 239.2,482.9 240.4,483.4 241.5,481.5 242.7,483.2 243.9,481.3 245.1,482.5 246.2,481.6 247.4,482.5 248.6,481.5 249.8,483.4 250.9,482.0 252.1,482.3 253.3,482.2 254.6,482.3 255.8,480.0 257.0,481.5 258.3,480.6 259.5,481.5 260.7,480.2 262.0,481.5 263.2,481.0 264.3,480.7 265.4,479.1 266.5,480.9 267.6,478.1 268.7,478.7 269.8,478.7 270.9,477.6 272.0,475.4 272.9,472.8 273.8,469.9 275.3,461.0 276.4,445.6 277.1,416.8 277.5,383.4 278.8,383.4 280.0,383.4 281.3,383.4 281.8,416.8 282.2,456.6 283.1,461.0 284.2,462.9 285.3,463.2 286.2,457.2 287.1,450.0 288.6,427.9 290.2,393.4 291.3,416.8 292.4,456.6 293.7,472.1 295.0,473.1 296.3,474.3 297.4,473.3 298.6,477.8 299.7,475.4 300.8,469.9 301.7,461.0 302.5,472.1 304.1,479.8 305.2,480.5 306.3,479.1 307.4,482.8 308.5,480.9 309.9,480.3 311.4,477.6 312.7,475.4 314.0,482.0 315.1,482.7 316.2,481.7 317.4,483.4 318.5,483.2 319.8,483.8 321.1,481.4 322.9,483.8 323.9,483.9 325.0,484.8 325.0,485.1" fill="#c4c4c4" stroke="none"/>
<polyline points="203.8,484.8 205.0,484.3 206.2,484.9 207.4,484.4 208.7,484.6 209.9,484.0 211.1,484.9 212.3,483.6 213.5,484.9 214.7,483.6 215.9,484.4 217.2,483.6 218.4,484.5 219.6,482.9 220.8,483.8 222.0,483.4 223.3,484.3 224.5,482.7 225.7,484.2 226.9,482.6 228.2,484.1 229.4,483.4 230.6,484.7 231.8,482.5 233.1,484.0 234.3,482.0 235.5,484.2 236.7,482.6 238.0,483.3 239.2,482.9 240.4,483.4 241.5,481.5 242.7,483.2 243.9,481.3 245.1,482.5 246.2,481.6 247.4,482.5 248.6,481.5 249.8,483.4 250.9,482.0 252.1,482.3 253.3,482.2 254.6,482.3 255.8,480.0 257.0,481.5 258.3,480.6 259.5,481.5 260.7,480.2 262.0,481.5 263.2,481.0 264.3,480.7 265.4,479.1 266.5,480.9 267.6,478.1 268.7,478.7 269.8,478.7 270.9,477.6 272.0,475.4 272.9,472.8 273.8,469.9 275.3,461.0 276.4,445.6 277.1,416.8 277.5,383.4 278.8,383.4 280.0,383.4 281.3,383.4 281.8,416.8 282.2,456.6 283.1,461.0 284.2,462.9 285.3,463.2 286.2,457.2 287.1,450.0 288.6,427.9 290.2,393.4 291.3,416.8 292.4,456.6 293.7,472.1 295.0,473.1 296.3,474.3 297.4,473.3 298.6,477.8 299.7,475.4 300.8,469.9 301.7,461.0 302.5,472.1 304.1,479.8 305.2,480.5 306.3,479.1 307.4,482.8 308.5,480.9 309.9,480.3 311.4,477.6 312.7,475.4 314.0,482.0 315.1,482.7 316.2,481.7 317.4,483.4 318.5,483.2 319.8,483.8 321.1,481.4 322.9,483.8 323.9,483.9 325.0,484.8" fill="none" stroke="#000" stroke-width="1.4" stroke-linejoin="miter" stroke-miterlimit="3"/>
<path d="M214.5,484.4V483.3 M217.5,484.5V483.3 M221.5,484.0V481.4 M223.5,483.7V482.8 M226.5,483.7V481.2 M228.5,483.7V481.5 M231.5,483.4V482.1 M234.5,483.8V480.8 M239.5,483.4V481.6 M241.5,483.0V482.0 M243.5,483.0V480.4 M245.5,482.9V479.3 M247.5,482.6V481.8 M250.5,483.1V481.7 M252.5,482.9V479.8 M254.5,482.3V480.9 M255.5,482.6V479.2 M257.5,481.9V479.7 M259.5,482.3V479.1 M260.5,481.4V478.9 M262.5,481.2V480.4 M264.5,481.1V478.2 M266.5,481.2V477.8 M269.5,479.5V478.1 M271.5,477.6V472.8 M273.5,471.6V468.1 M281.5,387.6V382.9 M283.5,462.9V447.1 M284.5,463.1V459.9 M287.5,446.7V445.6 M289.5,412.0V410.8 M291.5,419.0V410.5 M294.5,473.4V468.9 M297.5,475.0V473.7 M299.5,476.4V472.9 M300.5,473.1V468.9 M302.5,470.4V465.2 M304.5,481.0V478.5 M307.5,481.5V479.2 M310.5,479.7V476.6 M312.5,476.1V474.8 M314.5,482.3V480.8 M316.5,482.8V481.9 M319.5,483.8V481.7 M322.5,483.7V482.2 M323.5,484.3V481.4" fill="none" stroke="#000" stroke-width="1.0"/>
<path d="M202.20,382.90 V485.10 H350.3" fill="none" stroke="#000" stroke-width="1.45" stroke-linecap="butt" stroke-linejoin="miter"/>
<ellipse cx="197.9" cy="485.0" rx="2.05" ry="1.15" fill="none" stroke="#000" stroke-width="1.2"/>
<g font-family="Liberation Sans, sans-serif" font-weight="bold" fill="#000">
<text transform="translate(197.8,492.85) scale(0.84,1)" font-size="8.3" stroke="#000" stroke-width="0.15">10<tspan font-size="4.4" dy="-3.7" dx="0.4">0</tspan></text>
<text transform="translate(234.4,492.85) scale(0.84,1)" font-size="8.3" stroke="#000" stroke-width="0.15">10<tspan font-size="4.4" dy="-3.7" dx="0.4">1</tspan></text>
<text transform="translate(271.1,492.85) scale(0.84,1)" font-size="8.3" stroke="#000" stroke-width="0.15">10<tspan font-size="4.4" dy="-3.7" dx="0.4">2</tspan></text>
<text transform="translate(307.8,492.85) scale(0.84,1)" font-size="8.3" stroke="#000" stroke-width="0.15">10<tspan font-size="4.4" dy="-3.7" dx="0.4">3</tspan></text>
<text transform="translate(344.4,492.85) scale(0.84,1)" font-size="8.3" stroke="#000" stroke-width="0.15">10<tspan font-size="4.4" dy="-3.7" dx="0.4">4</tspan></text>
</g>
<g font-family="Liberation Serif, serif" stroke="#111" stroke-width="0.22">
<text transform="translate(280.2,500.5) scale(0.9,1)" font-size="10" text-anchor="middle" fill="#303030" stroke="#303030" stroke-width="0.1">DNA</text>
<text transform="translate(202.8,391.9) scale(0.945,1)" font-size="12.2" text-anchor="start" fill="#111" word-spacing="0.6">97 % CD41<tspan font-size="4.8" dy="-6.0" dx="1.8">+</tspan></text>
<text transform="translate(272.5,377.0) scale(0.935,1)" font-size="12.4" text-anchor="start" fill="#111">2n</text>
<text transform="translate(283.8,387.6) scale(0.935,1)" font-size="12.4" text-anchor="start" fill="#111">4n</text>
<text transform="translate(296.0,454.1) scale(0.935,1)" font-size="12.4" text-anchor="start" fill="#111">8n</text>
<text transform="translate(303.5,468.1) scale(0.935,1)" font-size="12.4" text-anchor="start" fill="#111">16n</text>
<text transform="translate(316.4,480.1) scale(0.935,1)" font-size="12.4" text-anchor="start" fill="#111">32n</text>
<text transform="translate(238.7,470.4) scale(0.935,1)" font-size="12.4" text-anchor="start" fill="#111">SubG1</text>
</g>
<polygon points="30.8,626.0 30.8,625.7 32.0,624.9 33.2,625.8 34.3,625.0 35.5,625.2 36.7,624.3 37.9,625.5 39.0,625.1 40.2,625.7 41.4,625.0 42.6,625.6 43.7,623.8 44.9,625.7 46.1,624.4 47.3,625.2 48.4,624.2 49.6,624.5 50.8,624.5 52.0,624.5 53.1,623.1 54.3,624.3 55.5,623.8 56.6,625.1 57.8,623.4 59.0,624.1 60.2,623.6 61.3,623.2 62.5,623.3 63.7,623.6 64.8,623.4 66.0,623.0 67.2,622.1 68.5,622.8 69.8,622.1 71.0,623.0 72.2,621.1 73.5,622.2 74.8,621.9 76.0,624.7 77.2,620.6 78.5,621.4 79.7,618.8 80.8,622.1 82.0,620.6 83.1,620.5 84.2,620.3 85.4,621.2 86.5,619.8 87.7,619.8 88.9,619.3 90.1,618.5 91.4,617.1 92.6,617.6 93.8,616.8 94.8,613.1 95.7,607.5 97.0,583.0 98.8,552.0 100.6,536.8 102.0,524.5 103.7,538.3 105.5,561.4 106.8,573.5 108.3,567.0 109.5,579.0 111.0,558.3 112.0,558.0 113.0,552.0 114.8,567.5 116.3,595.2 117.4,603.3 118.5,606.0 120.0,605.7 121.5,604.5 122.5,604.0 123.6,600.5 124.6,600.8 125.5,603.5 126.5,607.5 127.4,610.4 128.3,618.3 129.6,618.8 131.0,620.9 132.3,621.4 133.3,619.1 134.4,616.3 135.4,614.3 136.4,617.5 137.5,622.3 138.6,621.3 139.7,622.7 140.8,622.6 141.9,624.6 143.0,623.0 144.5,623.6 146.0,621.4 147.1,622.9 148.1,623.9 149.2,625.4 150.4,625.4 151.7,625.8 152.9,625.7 154.2,625.8 155.4,625.7 155.4,626.0" fill="#c4c4c4" stroke="none"/>
<polyline points="30.8,625.7 32.0,624.9 33.2,625.8 34.3,625.0 35.5,625.2 36.7,624.3 37.9,625.5 39.0,625.1 40.2,625.7 41.4,625.0 42.6,625.6 43.7,623.8 44.9,625.7 46.1,624.4 47.3,625.2 48.4,624.2 49.6,624.5 50.8,624.5 52.0,624.5 53.1,623.1 54.3,624.3 55.5,623.8 56.6,625.1 57.8,623.4 59.0,624.1 60.2,623.6 61.3,623.2 62.5,623.3 63.7,623.6 64.8,623.4 66.0,623.0 67.2,622.1 68.5,622.8 69.8,622.1 71.0,623.0 72.2,621.1 73.5,622.2 74.8,621.9 76.0,624.7 77.2,620.6 78.5,621.4 79.7,618.8 80.8,622.1 82.0,620.6 83.1,620.5 84.2,620.3 85.4,621.2 86.5,619.8 87.7,619.8 88.9,619.3 90.1,618.5 91.4,617.1 92.6,617.6 93.8,616.8 94.8,613.1 95.7,607.5 97.0,583.0 98.8,552.0 100.6,536.8 102.0,524.5 103.7,538.3 105.5,561.4 106.8,573.5 108.3,567.0 109.5,579.0 111.0,558.3 112.0,558.0 113.0,552.0 114.8,567.5 116.3,595.2 117.4,603.3 118.5,606.0 120.0,605.7 121.5,604.5 122.5,604.0 123.6,600.5 124.6,600.8 125.5,603.5 126.5,607.5 127.4,610.4 128.3,618.3 129.6,618.8 131.0,620.9 132.3,621.4 133.3,619.1 134.4,616.3 135.4,614.3 136.4,617.5 137.5,622.3 138.6,621.3 139.7,622.7 140.8,622.6 141.9,624.6 143.0,623.0 144.5,623.6 146.0,621.4 147.1,622.9 148.1,623.9 149.2,625.4 150.4,625.4 151.7,625.8 152.9,625.7 154.2,625.8 155.4,625.7" fill="none" stroke="#000" stroke-width="1.4" stroke-linejoin="miter" stroke-miterlimit="3"/>
<path d="M39.5,625.3V622.7 M41.5,625.1V623.6 M43.5,625.4V624.3 M45.5,625.1V624.2 M49.5,625.3V623.9 M51.5,624.8V622.6 M54.5,624.2V622.4 M57.5,624.6V622.9 M58.5,624.0V623.0 M59.5,623.8V620.8 M60.5,623.8V621.1 M63.5,623.5V622.4 M67.5,623.7V620.1 M69.5,622.6V620.8 M70.5,623.2V620.3 M73.5,623.5V619.8 M75.5,622.1V620.3 M78.5,622.5V619.1 M80.5,621.1V619.7 M82.5,620.7V619.5 M85.5,620.8V619.2 M86.5,620.1V619.2 M88.5,620.3V618.4 M90.5,619.1V617.1 M92.5,618.1V616.2 M94.5,613.8V611.3 M98.5,553.3V552.5 M101.5,527.4V525.2 M103.5,539.4V526.1 M105.5,565.5V556.0 M106.5,573.5V568.6 M108.5,573.0V568.0 M110.5,562.2V561.2 M112.5,553.7V551.4 M114.5,567.1V562.1 M117.5,603.9V595.9 M119.5,606.2V603.9 M121.5,604.6V602.0 M124.5,601.5V600.2 M126.5,609.1V607.1 M127.5,615.1V610.9 M129.5,621.8V618.2 M131.5,621.8V618.3 M133.5,619.4V616.8 M134.5,616.4V613.7 M136.5,620.1V617.9 M139.5,622.8V621.7 M141.5,622.9V620.9 M142.5,623.7V622.3 M144.5,622.6V621.2 M146.5,622.5V620.8 M148.5,625.5V622.6" fill="none" stroke="#000" stroke-width="1.0"/>
<path d="M30.00,523.20 V626.00 H178.1" fill="none" stroke="#000" stroke-width="1.45" stroke-linecap="butt" stroke-linejoin="miter"/>
<ellipse cx="25.7" cy="625.9" rx="2.05" ry="1.15" fill="none" stroke="#000" stroke-width="1.2"/>
<g font-family="Liberation Sans, sans-serif" font-weight="bold" fill="#000">
<text transform="translate(25.6,634.65) scale(0.84,1)" font-size="8.3" stroke="#000" stroke-width="0.15">10<tspan font-size="4.4" dy="-3.7" dx="0.4">0</tspan></text>
<text transform="translate(62.3,634.65) scale(0.84,1)" font-size="8.3" stroke="#000" stroke-width="0.15">10<tspan font-size="4.4" dy="-3.7" dx="0.4">1</tspan></text>
<text transform="translate(98.9,634.65) scale(0.84,1)" font-size="8.3" stroke="#000" stroke-width="0.15">10<tspan font-size="4.4" dy="-3.7" dx="0.4">2</tspan></text>
<text transform="translate(135.5,634.65) scale(0.84,1)" font-size="8.3" stroke="#000" stroke-width="0.15">10<tspan font-size="4.4" dy="-3.7" dx="0.4">3</tspan></text>
<text transform="translate(172.2,634.65) scale(0.84,1)" font-size="8.3" stroke="#000" stroke-width="0.15">10<tspan font-size="4.4" dy="-3.7" dx="0.4">4</tspan></text>
</g>
<g font-family="Liberation Serif, serif" stroke="#111" stroke-width="0.22">
<text transform="translate(108.0,643.2) scale(0.9,1)" font-size="10" text-anchor="middle" fill="#303030" stroke="#303030" stroke-width="0.1">DNA</text>
<text transform="translate(31.0,532.8) scale(0.945,1)" font-size="12.2" text-anchor="start" fill="#111" word-spacing="0.6">95 % CD41<tspan font-size="4.8" dy="-6.0" dx="1.8">+</tspan></text>
<text transform="translate(96.3,519.5) scale(0.935,1)" font-size="12.4" text-anchor="start" fill="#111">2n</text>
<text transform="translate(107.4,547.8) scale(0.935,1)" font-size="12.4" text-anchor="start" fill="#111">4n</text>
<text transform="translate(120.7,592.3) scale(0.935,1)" font-size="12.4" text-anchor="start" fill="#111">8n</text>
<text transform="translate(129.0,608.7) scale(0.935,1)" font-size="12.4" text-anchor="start" fill="#111">16n</text>
<text transform="translate(140.1,620.0) scale(0.935,1)" font-size="12.4" text-anchor="start" fill="#111">32n</text>
<text transform="translate(65.2,610.7) scale(0.935,1)" font-size="12.4" text-anchor="start" fill="#111">SubG1</text>
</g>
<polygon points="202.3,626.2 202.3,625.6 203.5,625.0 204.8,625.6 206.0,625.1 207.2,626.0 208.5,624.6 209.7,625.6 210.9,625.2 212.2,625.2 213.4,624.8 214.6,625.4 215.9,624.4 217.1,626.0 218.3,623.8 219.6,624.8 220.8,624.8 222.0,625.5 223.1,624.6 224.3,625.7 225.5,623.6 226.6,625.0 227.8,624.8 229.0,624.9 230.2,623.9 231.3,626.0 232.5,624.6 233.7,624.9 234.8,624.2 236.0,624.6 237.2,624.4 238.4,624.5 239.6,624.0 240.8,625.6 242.0,623.6 243.2,624.6 244.3,624.0 245.5,624.3 246.7,623.3 247.9,625.2 249.1,623.1 250.3,624.8 251.5,623.8 252.7,623.8 253.8,622.9 255.0,624.6 256.1,623.2 257.3,623.8 258.5,622.3 259.6,623.5 260.8,623.2 262.5,621.7 263.6,619.2 264.6,617.2 265.6,610.2 266.9,580.2 268.5,544.7 269.5,535.7 270.5,524.0 271.4,535.1 272.3,544.4 273.2,560.3 274.2,575.2 275.2,589.4 276.3,602.9 278.0,607.4 278.9,601.3 279.8,596.7 280.8,587.3 281.7,578.2 283.2,564.4 284.8,584.4 286.5,605.9 287.5,609.9 288.5,613.6 290.0,612.2 291.5,610.4 292.8,604.1 294.0,595.2 295.0,601.3 296.0,607.4 297.1,615.3 298.3,620.8 299.4,621.5 300.6,621.2 301.7,621.7 303.1,614.9 304.5,609.6 305.8,610.6 307.0,612.7 308.5,623.2 309.6,623.5 310.8,621.9 311.9,623.1 313.0,621.7 314.5,624.4 316.0,625.6 317.2,626.0 318.4,625.2 319.5,626.0 320.7,625.8 321.9,626.0 323.0,625.7 324.2,626.0 325.4,625.9 325.4,626.2" fill="#c4c4c4" stroke="none"/>
<polyline points="202.3,625.6 203.5,625.0 204.8,625.6 206.0,625.1 207.2,626.0 208.5,624.6 209.7,625.6 210.9,625.2 212.2,625.2 213.4,624.8 214.6,625.4 215.9,624.4 217.1,626.0 218.3,623.8 219.6,624.8 220.8,624.8 222.0,625.5 223.1,624.6 224.3,625.7 225.5,623.6 226.6,625.0 227.8,624.8 229.0,624.9 230.2,623.9 231.3,626.0 232.5,624.6 233.7,624.9 234.8,624.2 236.0,624.6 237.2,624.4 238.4,624.5 239.6,624.0 240.8,625.6 242.0,623.6 243.2,624.6 244.3,624.0 245.5,624.3 246.7,623.3 247.9,625.2 249.1,623.1 250.3,624.8 251.5,623.8 252.7,623.8 253.8,622.9 255.0,624.6 256.1,623.2 257.3,623.8 258.5,622.3 259.6,623.5 260.8,623.2 262.5,621.7 263.6,619.2 264.6,617.2 265.6,610.2 266.9,580.2 268.5,544.7 269.5,535.7 270.5,524.0 271.4,535.1 272.3,544.4 273.2,560.3 274.2,575.2 275.2,589.4 276.3,602.9 278.0,607.4 278.9,601.3 279.8,596.7 280.8,587.3 281.7,578.2 283.2,564.4 284.8,584.4 286.5,605.9 287.5,609.9 288.5,613.6 290.0,612.2 291.5,610.4 292.8,604.1 294.0,595.2 295.0,601.3 296.0,607.4 297.1,615.3 298.3,620.8 299.4,621.5 300.6,621.2 301.7,621.7 303.1,614.9 304.5,609.6 305.8,610.6 307.0,612.7 308.5,623.2 309.6,623.5 310.8,621.9 311.9,623.1 313.0,621.7 314.5,624.4 316.0,625.6 317.2,626.0 318.4,625.2 319.5,626.0 320.7,625.8 321.9,626.0 323.0,625.7 324.2,626.0 325.4,625.9" fill="none" stroke="#000" stroke-width="1.4" stroke-linejoin="miter" stroke-miterlimit="3"/>
<path d="M207.5,625.8V624.8 M209.5,625.4V624.0 M211.5,625.7V624.7 M213.5,625.6V624.0 M216.5,625.5V623.7 M218.5,625.4V623.8 M221.5,625.0V623.5 M223.5,625.0V623.7 M227.5,624.8V623.9 M229.5,624.8V623.0 M230.5,625.3V623.9 M233.5,624.7V622.0 M235.5,625.2V624.0 M237.5,624.6V623.2 M239.5,624.8V621.3 M241.5,624.5V623.3 M243.5,624.4V622.7 M245.5,624.2V622.2 M246.5,624.6V622.7 M249.5,624.2V623.2 M251.5,624.2V623.2 M253.5,624.4V621.4 M255.5,624.1V621.0 M258.5,623.8V622.5 M260.5,623.4V621.1 M261.5,623.3V621.5 M262.5,622.1V617.7 M272.5,547.6V532.5 M274.5,578.2V571.2 M276.5,603.1V601.0 M279.5,600.4V591.2 M283.5,566.4V563.8 M285.5,590.9V586.6 M287.5,609.3V606.0 M289.5,613.2V610.3 M290.5,612.9V610.6 M295.5,603.2V597.9 M297.5,616.0V607.8 M299.5,621.1V620.2 M300.5,621.7V620.2 M303.5,615.1V611.0 M305.5,610.7V609.0 M307.5,616.7V613.1 M309.5,623.7V621.4 M312.5,622.0V621.1 M313.5,622.3V621.1 M314.5,623.5V621.2" fill="none" stroke="#000" stroke-width="1.0"/>
<path d="M202.20,525.80 V626.20 H350.3" fill="none" stroke="#000" stroke-width="1.45" stroke-linecap="butt" stroke-linejoin="miter"/>
<ellipse cx="197.9" cy="626.1" rx="2.05" ry="1.15" fill="none" stroke="#000" stroke-width="1.2"/>
<g font-family="Liberation Sans, sans-serif" font-weight="bold" fill="#000">
<text transform="translate(197.8,634.85) scale(0.84,1)" font-size="8.3" stroke="#000" stroke-width="0.15">10<tspan font-size="4.4" dy="-3.7" dx="0.4">0</tspan></text>
<text transform="translate(234.4,634.85) scale(0.84,1)" font-size="8.3" stroke="#000" stroke-width="0.15">10<tspan font-size="4.4" dy="-3.7" dx="0.4">1</tspan></text>
<text transform="translate(271.1,634.85) scale(0.84,1)" font-size="8.3" stroke="#000" stroke-width="0.15">10<tspan font-size="4.4" dy="-3.7" dx="0.4">2</tspan></text>
<text transform="translate(307.8,634.85) scale(0.84,1)" font-size="8.3" stroke="#000" stroke-width="0.15">10<tspan font-size="4.4" dy="-3.7" dx="0.4">3</tspan></text>
<text transform="translate(344.4,634.85) scale(0.84,1)" font-size="8.3" stroke="#000" stroke-width="0.15">10<tspan font-size="4.4" dy="-3.7" dx="0.4">4</tspan></text>
</g>
<g font-family="Liberation Serif, serif" stroke="#111" stroke-width="0.22">
<text transform="translate(280.2,643.4) scale(0.9,1)" font-size="10" text-anchor="middle" fill="#303030" stroke="#303030" stroke-width="0.1">DNA</text>
<text transform="translate(203.0,532.8) scale(0.945,1)" font-size="12.2" text-anchor="start" fill="#111" word-spacing="0.6">96 % CD41<tspan font-size="4.8" dy="-6.0" dx="1.8">+</tspan></text>
<text transform="translate(262.7,521.9) scale(0.935,1)" font-size="12.4" text-anchor="start" fill="#111">2n</text>
<text transform="translate(275.6,558.7) scale(0.935,1)" font-size="12.4" text-anchor="start" fill="#111">4n</text>
<text transform="translate(290.5,590.5) scale(0.935,1)" font-size="12.4" text-anchor="start" fill="#111">8n</text>
<text transform="translate(300.0,606.2) scale(0.935,1)" font-size="12.4" text-anchor="start" fill="#111">16n</text>
<text transform="translate(309.4,616.5) scale(0.935,1)" font-size="12.4" text-anchor="start" fill="#111">32n</text>
<text transform="translate(230.7,611.7) scale(0.935,1)" font-size="12.4" text-anchor="start" fill="#111">SubG1</text>
</g>
<polygon points="365.8,625.8 365.8,625.5 367.0,624.9 368.2,625.6 369.3,624.4 370.5,625.3 371.7,624.3 372.9,625.6 374.0,624.3 375.2,625.5 376.4,623.6 377.6,625.2 378.7,624.9 379.9,624.7 381.1,624.4 382.3,625.2 383.4,623.6 384.6,625.2 385.8,624.6 387.0,625.6 388.3,624.4 389.5,625.6 390.7,624.6 391.9,624.6 393.2,623.7 394.4,624.7 395.6,623.6 396.8,625.5 398.1,623.8 399.3,625.4 400.5,623.8 401.7,625.5 403.0,623.7 404.2,624.3 405.4,623.8 406.7,624.5 407.9,623.1 409.1,623.8 410.4,623.4 411.6,623.9 412.8,622.5 414.0,624.6 415.3,622.0 416.5,622.8 417.7,621.9 418.8,624.1 420.0,622.5 421.1,623.0 422.3,621.5 423.5,624.4 424.6,621.1 425.8,622.1 427.0,621.3 428.1,621.7 429.3,619.2 430.4,621.0 431.6,619.6 432.6,616.2 433.6,610.4 434.6,597.2 435.6,582.8 437.0,553.8 438.2,546.8 439.5,527.8 440.8,551.8 441.8,568.6 442.7,582.8 444.2,604.3 445.1,604.5 446.0,608.8 447.0,600.0 448.0,595.0 449.5,576.6 450.7,569.8 452.2,585.8 453.1,597.9 454.0,608.8 455.2,611.8 456.5,615.0 457.8,616.8 459.0,610.4 459.9,602.8 460.8,593.5 462.4,610.4 463.4,613.7 464.5,619.6 465.7,618.6 467.0,621.5 468.2,621.2 469.4,616.8 470.7,612.0 472.2,606.8 473.8,616.6 474.7,621.3 475.6,622.1 476.6,621.9 477.7,619.3 478.7,620.3 479.9,618.0 481.2,619.0 482.7,624.3 483.9,625.0 485.0,624.2 486.1,625.3 487.3,625.5 487.3,625.8" fill="#c4c4c4" stroke="none"/>
<polyline points="365.8,625.5 367.0,624.9 368.2,625.6 369.3,624.4 370.5,625.3 371.7,624.3 372.9,625.6 374.0,624.3 375.2,625.5 376.4,623.6 377.6,625.2 378.7,624.9 379.9,624.7 381.1,624.4 382.3,625.2 383.4,623.6 384.6,625.2 385.8,624.6 387.0,625.6 388.3,624.4 389.5,625.6 390.7,624.6 391.9,624.6 393.2,623.7 394.4,624.7 395.6,623.6 396.8,625.5 398.1,623.8 399.3,625.4 400.5,623.8 401.7,625.5 403.0,623.7 404.2,624.3 405.4,623.8 406.7,624.5 407.9,623.1 409.1,623.8 410.4,623.4 411.6,623.9 412.8,622.5 414.0,624.6 415.3,622.0 416.5,622.8 417.7,621.9 418.8,624.1 420.0,622.5 421.1,623.0 422.3,621.5 423.5,624.4 424.6,621.1 425.8,622.1 427.0,621.3 428.1,621.7 429.3,619.2 430.4,621.0 431.6,619.6 432.6,616.2 433.6,610.4 434.6,597.2 435.6,582.8 437.0,553.8 438.2,546.8 439.5,527.8 440.8,551.8 441.8,568.6 442.7,582.8 444.2,604.3 445.1,604.5 446.0,608.8 447.0,600.0 448.0,595.0 449.5,576.6 450.7,569.8 452.2,585.8 453.1,597.9 454.0,608.8 455.2,611.8 456.5,615.0 457.8,616.8 459.0,610.4 459.9,602.8 460.8,593.5 462.4,610.4 463.4,613.7 464.5,619.6 465.7,618.6 467.0,621.5 468.2,621.2 469.4,616.8 470.7,612.0 472.2,606.8 473.8,616.6 474.7,621.3 475.6,622.1 476.6,621.9 477.7,619.3 478.7,620.3 479.9,618.0 481.2,619.0 482.7,624.3 483.9,625.0 485.0,624.2 486.1,625.3 487.3,625.5" fill="none" stroke="#000" stroke-width="1.4" stroke-linejoin="miter" stroke-miterlimit="3"/>
<path d="M378.5,625.2V622.7 M380.5,625.5V624.4 M381.5,625.0V622.9 M383.5,624.9V624.0 M386.5,624.7V622.8 M387.5,625.3V623.4 M390.5,624.7V622.8 M392.5,624.7V623.5 M394.5,624.7V623.6 M395.5,624.8V623.6 M396.5,624.7V623.4 M398.5,624.9V621.9 M402.5,624.8V623.7 M404.5,624.5V622.8 M406.5,624.4V623.1 M409.5,623.8V621.9 M411.5,623.7V621.7 M412.5,624.1V621.0 M414.5,623.7V622.2 M416.5,622.9V620.7 M418.5,623.5V622.0 M419.5,622.7V620.1 M421.5,623.4V620.8 M423.5,622.5V621.5 M424.5,622.7V621.5 M425.5,623.0V621.1 M427.5,621.8V620.3 M430.5,620.1V619.0 M431.5,619.5V615.8 M432.5,615.3V609.8 M435.5,578.6V577.5 M436.5,557.8V556.5 M438.5,538.1V536.8 M440.5,553.8V541.0 M443.5,601.7V591.2 M445.5,609.4V605.6 M450.5,572.4V569.2 M452.5,593.6V589.6 M454.5,612.4V608.3 M456.5,615.3V613.4 M457.5,613.7V609.8 M461.5,604.2V599.7 M462.5,613.3V609.7 M465.5,620.8V619.0 M467.5,621.7V620.3 M468.5,620.0V617.3 M471.5,608.2V606.8 M473.5,616.7V614.6 M476.5,622.3V620.3 M478.5,620.2V618.4 M480.5,620.3V618.4 M483.5,624.9V623.7" fill="none" stroke="#000" stroke-width="1.0"/>
<path d="M364.80,526.70 V625.80 H512.9" fill="none" stroke="#000" stroke-width="1.45" stroke-linecap="butt" stroke-linejoin="miter"/>
<ellipse cx="360.5" cy="625.7" rx="2.05" ry="1.15" fill="none" stroke="#000" stroke-width="1.2"/>
<g font-family="Liberation Sans, sans-serif" font-weight="bold" fill="#000">
<text transform="translate(360.4,634.45) scale(0.84,1)" font-size="8.3" stroke="#000" stroke-width="0.15">10<tspan font-size="4.4" dy="-3.7" dx="0.4">0</tspan></text>
<text transform="translate(397.1,634.45) scale(0.84,1)" font-size="8.3" stroke="#000" stroke-width="0.15">10<tspan font-size="4.4" dy="-3.7" dx="0.4">1</tspan></text>
<text transform="translate(433.7,634.45) scale(0.84,1)" font-size="8.3" stroke="#000" stroke-width="0.15">10<tspan font-size="4.4" dy="-3.7" dx="0.4">2</tspan></text>
<text transform="translate(470.4,634.45) scale(0.84,1)" font-size="8.3" stroke="#000" stroke-width="0.15">10<tspan font-size="4.4" dy="-3.7" dx="0.4">3</tspan></text>
<text transform="translate(507.0,634.45) scale(0.84,1)" font-size="8.3" stroke="#000" stroke-width="0.15">10<tspan font-size="4.4" dy="-3.7" dx="0.4">4</tspan></text>
</g>
<g font-family="Liberation Serif, serif" stroke="#111" stroke-width="0.22">
<text transform="translate(442.8,643.0) scale(0.9,1)" font-size="10" text-anchor="middle" fill="#303030" stroke="#303030" stroke-width="0.1">DNA</text>
<text transform="translate(365.9,534.8) scale(0.945,1)" font-size="12.2" text-anchor="start" fill="#111" word-spacing="0.6">96 % CD41<tspan font-size="4.8" dy="-6.0" dx="1.8">+</tspan></text>
<text transform="translate(431.7,524.1) scale(0.935,1)" font-size="12.4" text-anchor="start" fill="#111">2n</text>
<text transform="translate(445.0,562.7) scale(0.935,1)" font-size="12.4" text-anchor="start" fill="#111">4n</text>
<text transform="translate(456.5,589.3) scale(0.935,1)" font-size="12.4" text-anchor="start" fill="#111">8n</text>
<text transform="translate(463.5,600.9) scale(0.935,1)" font-size="12.4" text-anchor="start" fill="#111">16n</text>
<text transform="translate(475.1,615.5) scale(0.935,1)" font-size="12.4" text-anchor="start" fill="#111">32n</text>
<text transform="translate(401.7,613.1) scale(0.935,1)" font-size="12.4" text-anchor="start" fill="#111">SubG1</text>
</g>
</svg>
</body></html>
